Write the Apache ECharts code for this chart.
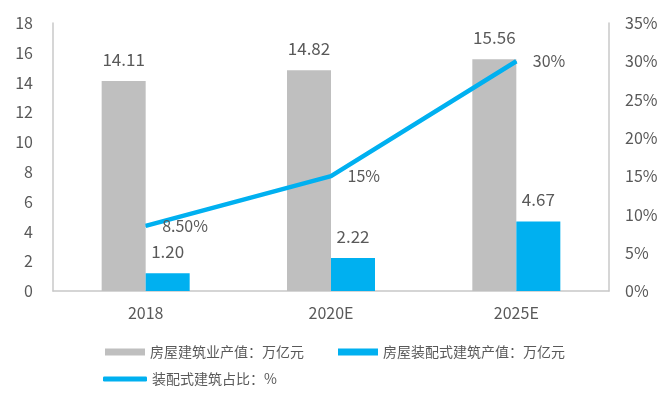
<!DOCTYPE html>
<html>
<head>
<meta charset="utf-8">
<script src="https://cdn.jsdelivr.net/npm/echarts@6/dist/echarts.min.js"></script>
<style>
    html, body { margin: 0; padding: 0; background: #fff; }
    #id-div-chart { width: 666px; height: 399px; }
</style>
</head>
<body>
<div id="id-div-chart"></div>
<script>
var years = ['2018', '2020E', '2025E']
var outputTotal = [14.11, 14.82, 15.56]
var outputPrefab = [1.20, 2.22, 4.67]
var prefabRatio = [8.5, 15, 30]
var ratioLabels = ['8.50%', '15%', '30%']

var nameTotal = '房屋建筑业产值：万亿元'
var namePrefab = '房屋装配式建筑产值：万亿元'
var nameRatio = '装配式建筑占比：%'

var font = '"Noto Sans CJK SC", "Noto Sans", sans-serif'
var textColor = '#595959'
var axisColor = '#c8c8c8'
var blue = '#00b0f0'
var gray = '#bfbfbf'

var e = (selector) => document.querySelector(selector)

var buildOption = function() {
    var option = {
        animation: false,
        textStyle: { fontFamily: font },
        grid: { left: 53, right: 57, top: 23, bottom: 108 },
        legend: [
            {
                data: [nameTotal, namePrefab],
                left: 100,
                top: 340,
                itemWidth: 40,
                itemHeight: 7,
                itemGap: 34,
                icon: 'rect',
                textStyle: { color: textColor, fontSize: 14, fontFamily: font },
            },
            {
                data: [nameRatio],
                left: 98,
                top: 367,
                itemWidth: 44,
                itemHeight: 5,
                icon: 'roundRect',
                textStyle: { color: textColor, fontSize: 14, fontFamily: font },
            },
        ],
        xAxis: {
            type: 'category',
            data: years,
            axisLine: { lineStyle: { color: axisColor, width: 1.5 } },
            axisTick: { show: false },
            axisLabel: { color: textColor, fontSize: 16, margin: 14 },
        },
        yAxis: [
            {
                type: 'value',
                min: 0,
                max: 18,
                interval: 2,
                axisLine: { show: true, lineStyle: { color: axisColor, width: 1.5 } },
                axisTick: { show: false },
                splitLine: { show: false },
                axisLabel: { color: textColor, fontSize: 16, margin: 20 },
            },
            {
                type: 'value',
                min: 0,
                max: 35,
                interval: 5,
                position: 'right',
                axisLine: { show: true, lineStyle: { color: axisColor, width: 1.5 } },
                axisTick: { show: false },
                splitLine: { show: false },
                axisLabel: { color: textColor, fontSize: 16, margin: 16, formatter: '{value}%' },
            },
        ],
        series: [
            {
                name: nameTotal,
                type: 'bar',
                data: outputTotal,
                barWidth: 44,
                barGap: '0%',
                itemStyle: { color: gray },
                label: {
                    show: true,
                    position: 'top',
                    distance: 13,
                    color: textColor,
                    fontSize: 17,
                    formatter: (p) => p.value.toFixed(2),
                },
            },
            {
                name: namePrefab,
                type: 'bar',
                data: outputPrefab,
                barWidth: 44,
                itemStyle: { color: blue },
                label: {
                    show: true,
                    position: 'top',
                    distance: 13,
                    color: textColor,
                    fontSize: 17,
                    formatter: (p) => p.value.toFixed(2),
                },
            },
            {
                name: nameRatio,
                type: 'line',
                yAxisIndex: 1,
                data: prefabRatio,
                symbol: 'circle',
                symbolSize: 1,
                showSymbol: true,
                lineStyle: { color: blue, width: 4.5 },
                itemStyle: { color: blue },
                label: {
                    show: true,
                    position: 'right',
                    distance: 16,
                    color: textColor,
                    fontSize: 16,
                    formatter: (p) => ratioLabels[p.dataIndex],
                },
            },
        ],
    }
    return option
}

var __main = function() {
    var chart = echarts.init(e('#id-div-chart'))
    chart.setOption(buildOption())
}

__main()
</script>
</body>
</html>
